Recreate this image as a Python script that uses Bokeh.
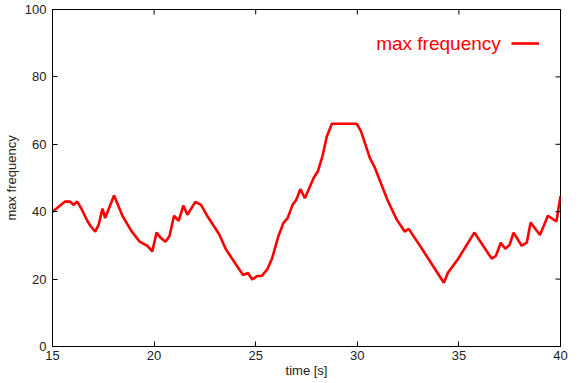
import math
from bokeh.plotting import figure
from bokeh.models import (Range1d, FixedTicker, Label, Legend, LegendItem)
from bokeh.embed import file_html
from bokeh.resources import INLINE

# time [s]
t = [15.0, 15.62, 15.87, 16.03, 16.22, 16.43, 16.73, 16.89, 17.1, 17.27, 17.46, 17.59,
     18.03, 18.44, 18.88, 19.29, 19.66, 19.91, 20.12, 20.35, 20.56, 20.76, 20.98, 21.21,
     21.44, 21.64, 22.03, 22.3, 22.58, 23.2, 23.53, 24.02, 24.38, 24.62, 24.83, 25.07,
     25.29, 25.57, 25.81, 26.12, 26.36, 26.57, 26.82, 26.99, 27.2, 27.42, 27.85, 28.06,
     28.29, 28.5, 28.75, 29.97, 30.18, 30.62, 30.84, 31.23, 31.49, 31.93, 32.33, 32.53,
     33.15, 33.64, 34.26, 34.46, 34.95, 35.76, 36.61, 36.82, 37.06, 37.28, 37.49, 37.69,
     38.09, 38.34, 38.53, 38.99, 39.38, 39.8, 40.0]
# max frequency
freq = [40.0, 43.0, 43.0, 42.0, 43.0, 40.8, 37.1, 35.6, 34.1, 36.1, 40.9, 38.1,
        44.8, 38.8, 34.3, 31.1, 29.9, 28.2, 33.8, 32.1, 31.1, 32.8, 38.8, 37.3,
        41.8, 39.1, 42.9, 42.1, 39.1, 33.3, 28.9, 24.4, 21.2, 21.8, 19.9, 20.9,
        20.9, 22.9, 26.2, 32.8, 36.6, 38.1, 42.1, 43.5, 46.7, 44.0, 50.0, 52.0,
        56.6, 62.3, 66.1, 66.1, 63.9, 55.9, 53.4, 47.4, 43.4, 37.8, 34.1, 34.9,
        29.3, 24.7, 18.9, 21.9, 25.9, 33.8, 26.1, 26.9, 30.8, 29.0, 30.1, 33.8,
        29.9, 30.8, 36.8, 33.1, 38.8, 37.1, 44.7]

x_ticks = [15, 20, 25, 30, 35, 40]
y_ticks = [0, 20, 40, 60, 80, 100]
series_name = "max frequency"

FONT = "Liberation Sans"
X0, X1, Y0, Y1 = 15, 40, 0, 100

p = figure(width=579, height=383, output_backend="svg", toolbar_location=None,
           x_range=Range1d(X0, X1), y_range=Range1d(Y0, Y1),
           min_border_left=49, min_border_right=19, min_border_top=9, min_border_bottom=37)
p.xgrid.visible = False
p.ygrid.visible = False
p.outline_line_color = "black"
p.outline_line_width = 1
p.background_fill_color = "white"
p.border_fill_color = "white"

r = p.line(t, freq, line_color="#ff0000", line_width=2.6)

for ax, ticks in ((p.xaxis[0], x_ticks), (p.yaxis[0], y_ticks)):
    ax.ticker = FixedTicker(ticks=ticks)
    ax.minor_tick_line_color = None
    ax.major_tick_in = 5
    ax.major_tick_out = 0
    ax.axis_line_color = "black"
    ax.major_tick_line_color = "black"
    ax.major_label_text_font = FONT
    ax.major_label_text_font_size = "13px"
    ax.major_label_text_color = "#222222"
    ax.axis_label_text_font = FONT
    ax.axis_label_text_font_size = "13px"
    ax.axis_label_text_font_style = "normal"
    ax.axis_label_text_color = "#222222"

p.xaxis[0].axis_label = "time [s]"
p.xaxis[0].major_label_standoff = 4
p.xaxis[0].axis_label_standoff = 0
p.yaxis[0].axis_label = "max frequency"
p.yaxis[0].major_label_standoff = 6
p.yaxis[0].axis_label_standoff = 3

# mirrored ticks on the top and right frame edges (clipped to the frame)
p.scatter(x_ticks, [Y1] * len(x_ticks), marker="dash", size=10, angle=math.pi / 2,
          line_color="black", line_width=1)
p.scatter([X1] * len(y_ticks), y_ticks, marker="dash", size=10,
          line_color="black", line_width=1)

# legend: text then sample line (gnuplot style)
legend = Legend(items=[LegendItem(label=" ", renderers=[r])],
                location=(459, 293), glyph_width=28, glyph_height=20,
                label_text_font_size="1px", label_standoff=0, label_width=0,
                padding=0, margin=0, spacing=0,
                border_line_color=None, background_fill_alpha=0)
p.add_layout(legend, "center")

p.add_layout(Label(x=37.06, y=90.0, text=series_name, text_align="right",
                   text_baseline="middle", text_color="#ff0000",
                   text_font=FONT, text_font_size="19px"))

open("out.html", "w").write(file_html(p, INLINE))
